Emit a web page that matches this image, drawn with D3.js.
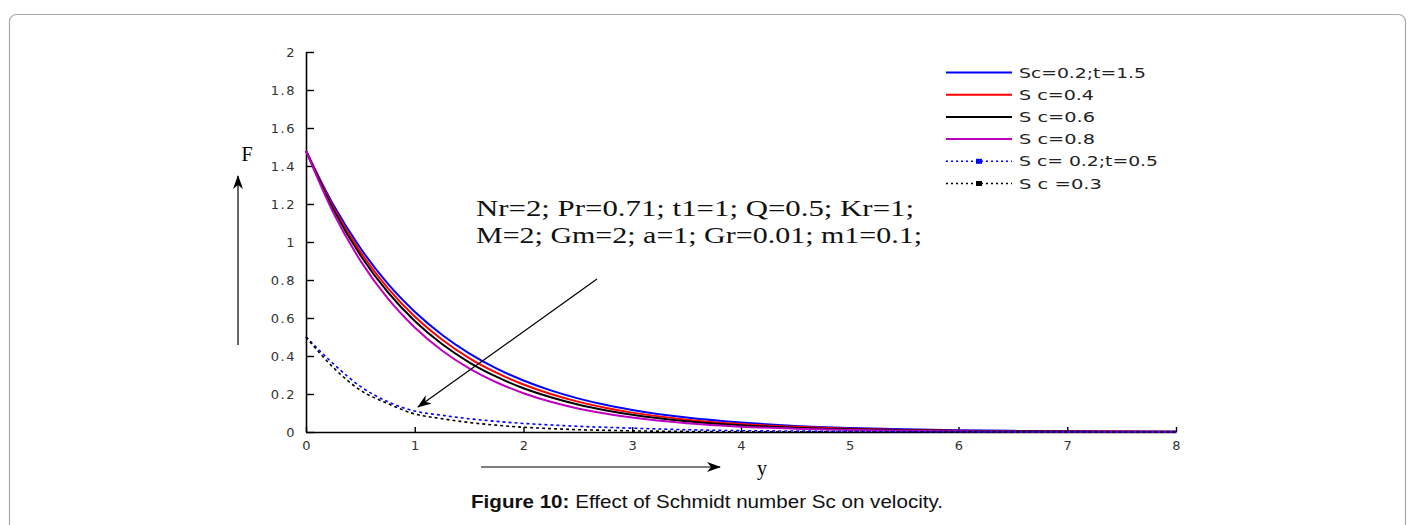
<!DOCTYPE html>
<html>
<head>
<meta charset="utf-8">
<script src="https://cdn.jsdelivr.net/npm/d3@7"></script>
<style>
  html, body { margin: 0; padding: 0; background: #ffffff; }
  svg { display: block; }
</style>
</head>
<body>
<svg id="chart" width="1414" height="525"></svg>
<script>
// Velocity profiles F(y) for several Schmidt numbers
const yGrid = [0, 0.25, 0.5, 0.75, 1, 1.25, 1.5, 1.75, 2, 2.25, 2.5, 2.75, 3, 3.5, 4, 4.5, 5, 5.5, 6, 6.5, 7, 7.5, 8];

const sc02t15 = [1.48, 1.197, 0.968, 0.782, 0.633, 0.512, 0.414, 0.335, 0.271, 0.219, 0.177, 0.143, 0.116, 0.076, 0.050, 0.032, 0.021, 0.014, 0.009, 0.006, 0.004, 0.0025, 0.0016];
const sc04    = [1.48, 1.185, 0.948, 0.759, 0.608, 0.487, 0.389, 0.312, 0.250, 0.200, 0.160, 0.128, 0.102, 0.065, 0.042, 0.027, 0.017, 0.011, 0.007, 0.0045, 0.003, 0.002, 0.001];
const sc06    = [1.48, 1.173, 0.930, 0.737, 0.584, 0.463, 0.367, 0.291, 0.230, 0.183, 0.145, 0.115, 0.091, 0.057, 0.036, 0.022, 0.014, 0.009, 0.0056, 0.0035, 0.002, 0.0014, 0.001];
const sc08    = [1.48, 1.155, 0.902, 0.704, 0.550, 0.429, 0.335, 0.262, 0.204, 0.159, 0.124, 0.097, 0.076, 0.046, 0.028, 0.017, 0.010, 0.006, 0.004, 0.002, 0.0015, 0.001, 0.0005];
const sc02t05 = [0.50, 0.36, 0.24, 0.16, 0.11, 0.088, 0.070, 0.056, 0.045, 0.037, 0.030, 0.025, 0.020, 0.012, 0.007, 0.005, 0.003, 0.002, 0.001, 0.0008, 0.0005, 0.0003, 0.0002];
const sc03    = [0.50, 0.34, 0.22, 0.15, 0.095, 0.070, 0.050, 0.036, 0.025, 0.018, 0.012, 0.009, 0.006, 0.003, 0.001, 0.0006, 0.0003, 0.0002, 0.0001, 0, 0, 0, 0];

const seriesNames  = ["Sc=0.2;t=1.5", "S c=0.4", "S c=0.6", "S c=0.8", "S c= 0.2;t=0.5", "S c =0.3"];
const seriesValues = [sc02t15, sc04, sc06, sc08, sc02t05, sc03];
const seriesColors = ["#0000ff", "#ff0000", "#000000", "#c000c0", "#0000ff", "#000000"];
const seriesDotted = [false, false, false, false, true, true];
const legendWidths = [127, 75, 76, 76, 139, 83];

const xTicks = [0, 1, 2, 3, 4, 5, 6, 7, 8];
const yTicks = [0, 0.2, 0.4, 0.6, 0.8, 1, 1.2, 1.4, 1.6, 1.8, 2];

const paramLines = ["Nr=2; Pr=0.71; t1=1; Q=0.5; Kr=1;", "M=2;  Gm=2; a=1; Gr=0.01; m1=0.1;"];
const paramWidths = [438, 446];

const svg = d3.select("#chart");

// outer panel frame
svg.append("rect")
  .attr("x", 9.5).attr("y", 14.5)
  .attr("width", 1396).attr("height", 530)
  .attr("rx", 7).attr("ry", 7)
  .attr("fill", "#ffffff")
  .attr("stroke", "#a8a8a8").attr("stroke-width", 1.2);

const x = d3.scaleLinear().domain([0, 8]).range([306, 1176]);
const y = d3.scaleLinear().domain([0, 2]).range([432, 52]);

const tickFont = "'DejaVu Sans', sans-serif";

// y axis (ticks point inward)
const yAxis = d3.axisLeft(y).tickValues(yTicks).tickSizeInner(-8).tickSizeOuter(0)
  .tickPadding(10).tickFormat(d3.format("~g"));
const gy = svg.append("g").attr("transform", `translate(${x(0)},0)`).call(yAxis);
gy.select(".domain").attr("stroke", "#000").attr("stroke-width", 1.6);
gy.selectAll(".tick line").attr("stroke", "#000").attr("stroke-width", 1.4);
gy.selectAll(".tick text").attr("font-family", tickFont).attr("font-size", 13)
  .attr("fill", "#333").attr("letter-spacing", 1.5);

// x axis (ticks point inward)
const xAxis = d3.axisBottom(x).tickValues(xTicks).tickSizeInner(-5).tickSizeOuter(0)
  .tickPadding(9).tickFormat(d3.format("d"));
const gx = svg.append("g").attr("transform", `translate(0,${y(0)})`).call(xAxis);
gx.select(".domain").attr("stroke", "#000").attr("stroke-width", 1.6);
gx.selectAll(".tick line").attr("stroke", "#000").attr("stroke-width", 1.4);
gx.selectAll(".tick text").attr("font-family", tickFont).attr("font-size", 13)
  .attr("fill", "#333");

// curves
const line = d3.line()
  .x((d, i) => x(yGrid[i]))
  .y(d => y(d))
  .curve(d3.curveMonotoneX);

seriesValues.forEach((vals, k) => {
  svg.append("path")
    .datum(vals)
    .attr("d", line)
    .attr("fill", "none")
    .attr("stroke", seriesColors[k])
    .attr("stroke-width", seriesDotted[k] ? 1.6 : 2)
    .attr("stroke-dasharray", seriesDotted[k] ? "3,3" : null);
});

// arrow heads
const defs = svg.append("defs");
defs.append("marker")
  .attr("id", "head").attr("viewBox", "0 0 14 10")
  .attr("refX", 13).attr("refY", 5)
  .attr("markerWidth", 14).attr("markerHeight", 10)
  .attr("markerUnits", "userSpaceOnUse")
  .attr("orient", "auto")
  .append("path").attr("d", "M0,0 L14,5 L0,10 L4,5 Z").attr("fill", "#000");

// axis direction arrows and labels
svg.append("line").attr("x1", 238).attr("y1", 345).attr("x2", 238).attr("y2", 176)
  .attr("stroke", "#000").attr("stroke-width", 1.2).attr("marker-end", "url(#head)");
svg.append("line").attr("x1", 481).attr("y1", 467).attr("x2", 720).attr("y2", 467)
  .attr("stroke", "#000").attr("stroke-width", 1.2).attr("marker-end", "url(#head)");
svg.append("text").attr("x", 247).attr("y", 161).attr("text-anchor", "middle")
  .attr("font-family", "'Liberation Serif', serif").attr("font-size", 20).text("F");
svg.append("text").attr("x", 762).attr("y", 475).attr("text-anchor", "middle")
  .attr("font-family", "'Liberation Serif', serif").attr("font-size", 20).text("y");

// trend arrow across the curves
svg.append("line").attr("x1", 597).attr("y1", 279).attr("x2", 418).attr("y2", 407)
  .attr("stroke", "#000").attr("stroke-width", 1.2).attr("marker-end", "url(#head)");

// parameter note
svg.append("g").selectAll("text").data(paramLines).join("text")
  .attr("x", 476).attr("y", (d, i) => 216 + i * 27)
  .attr("font-family", "'Liberation Serif', serif").attr("font-size", 23)
  .attr("fill", "#111")
  .attr("textLength", (d, i) => paramWidths[i])
  .attr("lengthAdjust", "spacingAndGlyphs")
  .text(d => d);

// legend
const lg = svg.append("g");
seriesNames.forEach((name, k) => {
  const ly = 72.5 + k * 22.2;
  lg.append("line").attr("x1", 946).attr("x2", 1012).attr("y1", ly).attr("y2", ly)
    .attr("stroke", seriesColors[k]).attr("stroke-width", seriesDotted[k] ? 1.6 : 2)
    .attr("stroke-dasharray", seriesDotted[k] ? "2,3" : null);
  if (seriesDotted[k]) {
    lg.append("rect").attr("x", 976).attr("y", ly - 2.5).attr("width", 6).attr("height", 5)
      .attr("fill", seriesColors[k]);
  }
  lg.append("text").attr("x", 1019).attr("y", ly + 5)
    .attr("font-family", tickFont).attr("font-size", 14).attr("fill", "#222")
    .attr("textLength", legendWidths[k])
    .attr("lengthAdjust", "spacingAndGlyphs")
    .text(name);
});

// caption
const cap = svg.append("text").attr("x", 707).attr("y", 508).attr("text-anchor", "middle")
  .attr("font-family", "'Liberation Sans', Arial, sans-serif").attr("font-size", 18).attr("fill", "#111")
  .attr("textLength", 472).attr("lengthAdjust", "spacingAndGlyphs");
cap.append("tspan").attr("font-weight", "bold").text("Figure 10:");
cap.append("tspan").text(" Effect of Schmidt number Sc on velocity.");
</script>
</body>
</html>
